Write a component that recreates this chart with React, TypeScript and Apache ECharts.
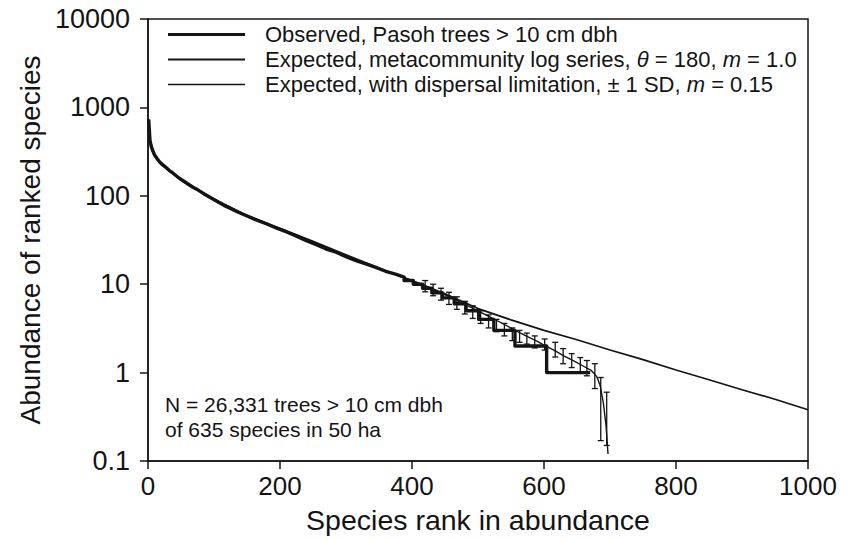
import React, { useEffect, useRef } from "react";
import * as echarts from "echarts";

// ---- data ----
const obsRank = [1, 2, 3, 5, 7, 10, 14, 18, 22, 27, 32, 38, 45, 52, 60, 68, 76, 85, 95, 105, 115, 125, 135, 150, 165, 180, 195, 210, 225, 240, 255, 270, 285, 300, 315, 330, 345, 360, 375, 388, 388, 402, 402, 416, 416, 430, 430, 446, 446, 464, 464, 482, 482, 501, 501, 524, 524, 556, 556, 604, 604, 670];
const obsAbund = [730, 560, 420, 360, 325, 290, 262, 240, 226, 210, 194, 180, 163, 150, 137, 125, 116, 105, 95, 86, 78, 72, 66, 59, 53, 48, 43, 39, 35, 31, 28, 25, 23, 20.5, 18.5, 17, 15.5, 14, 13, 12, 11, 11, 10, 10, 9, 9, 8, 8, 7, 7, 6, 6, 5, 5, 4, 4, 3, 3, 2, 2, 1, 1];

const metaRank = [1, 3, 10, 20, 50, 100, 150, 200, 250, 300, 350, 400, 450, 500, 550, 600, 650, 700, 750, 800, 850, 900, 950, 1000];
const metaAbund = [700, 430, 285, 225, 152, 92, 60, 43, 30.5, 21.5, 15.2, 11, 7.8, 5.3, 3.95, 3.0, 2.35, 1.8, 1.4, 1.07, 0.83, 0.64, 0.5, 0.38];

const dispRank = [1, 3, 10, 20, 50, 100, 150, 200, 250, 300, 350, 400, 420, 440, 460, 480, 500, 520, 540, 560, 575, 590, 600, 615, 630, 645, 660, 672, 680, 685, 690, 694, 697];
const dispAbund = [710, 420, 285, 226, 152, 91, 59, 42, 30, 21, 15, 11, 9.6, 8.2, 7.0, 5.9, 5.0, 4.2, 3.5, 2.9, 2.55, 2.25, 2.05, 1.8, 1.55, 1.36, 1.18, 1.05, 0.9, 0.72, 0.45, 0.25, 0.12];

const sdRank = [420, 432, 444, 456, 468, 480, 492, 504, 516, 528, 540, 552, 563, 574, 586, 601, 617, 629, 642, 655, 665, 677, 686, 695];
const sdLow = [8.2, 7.4, 6.6, 5.9, 5.2, 4.6, 4.1, 3.6, 3.2, 2.9, 2.6, 2.3, 2.2, 2.1, 1.9, 1.8, 1.5, 1.26, 1.14, 1.0, 0.92, 0.66, 0.17, 0.15];
const sdHigh = [11, 10, 9, 8.1, 7.2, 6.4, 5.7, 5.0, 4.5, 4.0, 3.6, 3.2, 3.0, 2.8, 2.6, 2.4, 2.2, 1.87, 1.64, 1.48, 1.37, 1.26, 0.88, 0.6];

const xTicks = [0, 200, 400, 600, 800, 1000];
const yTicks = [0.1, 1, 10, 100, 1000, 10000];

const legendNames = ["obs", "meta", "disp"];
const annotation = ["N = 26,331 trees > 10 cm dbh", "of 635 species in 50 ha"];

const FONT = '"Liberation Sans", Arial, Helvetica, sans-serif';
const INK = "#141414";

export default function App() {
  const ref = useRef<HTMLDivElement>(null);
  useEffect(() => {
    document.body.style.margin = "0";
    if (!ref.current) return;
    const chart = echarts.init(ref.current, null, { renderer: "svg" });

    const pairs = (xs: number[], ys: number[]) => xs.map((x, i) => [x, ys[i]]);

    const option: any = {
      animation: false,
      backgroundColor: "#ffffff",
      textStyle: { fontFamily: FONT, color: INK },
      grid: {
        left: 148,
        right: 60,
        top: 19,
        bottom: 80,
        show: true,
        borderColor: INK,
        borderWidth: 1.5,
        backgroundColor: "transparent",
      },
      legend: {
        orient: "vertical",
        left: 168,
        top: 22,
        padding: 0,
        itemGap: 0,
        itemWidth: 77,
        itemHeight: 25,
        selectedMode: false,
        data: [
          { name: legendNames[0], icon: "path://M0,0h80v3.3h-80z", itemStyle: { color: INK, borderWidth: 0 } },
          { name: legendNames[1], icon: "path://M0,0h80v1.9h-80z", itemStyle: { color: INK, borderWidth: 0 } },
          { name: legendNames[2], icon: "path://M0,0h80v1.7h-80z", itemStyle: { color: INK, borderWidth: 0 } },
        ],
        formatter: (name: string) => {
          if (name === "obs") return "{n|Observed, Pasoh trees > 10 cm dbh}";
          if (name === "meta")
            return "{n|Expected, metacommunity log series, }{i|θ}{n| = 180, }{i|m}{n| = 1.0}";
          return "{n|Expected, with dispersal limitation, ± 1 SD, }{i|m}{n| = 0.15}";
        },
        textStyle: {
          fontFamily: FONT,
          fontSize: 22,
          lineHeight: 25,
          color: INK,
          padding: [0, 0, 0, 15],
          rich: {
            n: { fontFamily: FONT, fontSize: 22, color: INK, lineHeight: 25 },
            i: { fontFamily: FONT, fontSize: 22, color: INK, lineHeight: 25, fontStyle: "italic" },
          },
        },
      },
      xAxis: {
        type: "value",
        min: xTicks[0],
        max: xTicks[xTicks.length - 1],
        interval: 200,
        name: "Species rank in abundance",
        nameLocation: "middle",
        nameGap: 44,
        nameTextStyle: { fontFamily: FONT, fontSize: 28.5, color: INK },
        axisLine: { show: true, lineStyle: { color: INK, width: 1.5 } },
        axisTick: { show: true, inside: false, length: 8, lineStyle: { color: INK, width: 1.5 } },
        axisLabel: {
          show: true,
          margin: 12,
          fontFamily: FONT,
          fontSize: 26,
          color: INK,
          formatter: (v: number) => String(Math.round(v)),
        },
        splitLine: { show: false },
      },
      yAxis: {
        type: "log",
        logBase: 10,
        min: yTicks[0],
        max: yTicks[yTicks.length - 1],
        name: "Abundance of ranked species",
        nameLocation: "middle",
        nameGap: 92,
        nameTextStyle: { fontFamily: FONT, fontSize: 28, color: INK },
        axisLine: { show: true, lineStyle: { color: INK, width: 1.5 } },
        axisTick: { show: true, inside: false, length: 8, lineStyle: { color: INK, width: 1.5 } },
        axisLabel: {
          show: true,
          margin: 18,
          fontFamily: FONT,
          fontSize: 27,
          color: INK,
          formatter: (v: number) => (v < 1 ? v.toFixed(1) : String(Math.round(v))),
        },
        minorTick: { show: false },
        splitLine: { show: false },
      },
      series: [
        {
          name: legendNames[1],
          type: "line",
          data: pairs(metaRank, metaAbund),
          showSymbol: false,
          symbol: "none",
          color: INK,
          lineStyle: { color: INK, width: 1.7 },
          z: 2,
        },
        {
          name: legendNames[2],
          type: "line",
          data: pairs(dispRank, dispAbund),
          showSymbol: false,
          symbol: "none",
          color: INK,
          lineStyle: { color: INK, width: 1.4 },
          z: 2,
        },
        {
          name: "sd",
          type: "custom",
          data: sdRank.map((r, i) => [r, sdLow[i], sdHigh[i]]),
          encode: { x: 0, y: [1, 2] },
          renderItem: (params: any, api: any) => {
            const x = api.value(0);
            const lo = api.coord([x, api.value(1)]);
            const hi = api.coord([x, api.value(2)]);
            const style = { stroke: INK, lineWidth: 1.3, fill: "none" };
            return {
              type: "group",
              children: [
                { type: "line", shape: { x1: lo[0], y1: lo[1], x2: hi[0], y2: hi[1] }, style },
                { type: "line", shape: { x1: lo[0] - 3, y1: lo[1], x2: lo[0] + 3, y2: lo[1] }, style },
                { type: "line", shape: { x1: hi[0] - 3, y1: hi[1], x2: hi[0] + 3, y2: hi[1] }, style },
              ],
            };
          },
          z: 3,
        },
        {
          name: legendNames[0],
          type: "line",
          data: pairs(obsRank, obsAbund),
          showSymbol: false,
          symbol: "none",
          color: INK,
          lineStyle: { color: INK, width: 3.4, join: "round" },
          z: 4,
        },
      ],
      graphic: [
        {
          type: "text",
          left: 165,
          top: 392,
          style: {
            text: annotation.join("\n"),
            font: `21px ${FONT}`,
            lineHeight: 25,
            fill: INK,
          },
        },
      ],
    };

    chart.setOption(option);
    return () => chart.dispose();
  }, []);

  return (
    <div
      ref={ref}
      style={{ position: "fixed", left: 0, top: 0, width: 868, height: 541, background: "#fff" }}
    />
  );
}
